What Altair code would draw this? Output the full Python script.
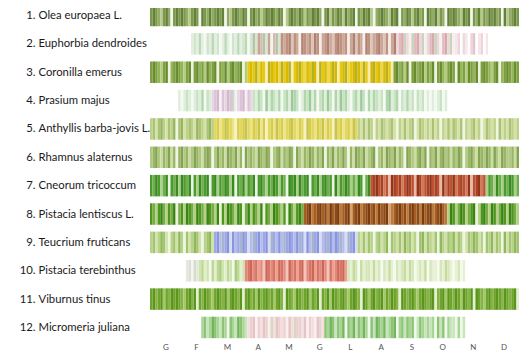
import json
import altair as alt
import pandas as pd

# ---------------- data ----------------
species = ["Olea europaea L.", "Euphorbia dendroides", "Coronilla emerus", "Prasium majus",
           "Anthyllis barba-jovis L.", "Rhamnus alaternus", "Cneorum tricoccum",
           "Pistacia lentiscus L.", "Teucrium fruticans", "Pistacia terebinthus",
           "Viburnus tinus", "Micromeria juliana"]
months = ["G", "F", "M", "A", "M", "G", "L", "A", "S", "O", "N", "D"]
cells_per_month = 12

# colour families (shade 0 = palest ... 4 = darkest)
palettes = {
    "p1":  ["#f2f5ea", "#b5c98c", "#94ad64", "#7b984c", "#64813a"],
    "eg":  ["#f4f9f2", "#e2efe0", "#d0e5cc", "#bcd9b6", "#a8cca2"],
    "em":  ["#f4f4ee", "#d6e4d0", "#d4bcae", "#c8a494", "#b8c4a8"],
    "eb":  ["#f3ece8", "#dcc4b8", "#cca696", "#bf9280", "#b08070"],
    "ep":  ["#f8f0f0", "#ecd6d8", "#e0bcc0", "#c8d4bc", "#d8a8ac"],
    "el":  ["#ffffff", "#f6e6ea", "#f0d4da", "#e8dcd8", "#e4c4cc"],
    "p3g": ["#eef3e0", "#b4cc80", "#94b458", "#7ea040", "#6a8c30"],
    "p3y": ["#f6eeb0", "#eed84a", "#e6c810", "#d8b800", "#b8b020"],
    "p4g": ["#f4faf2", "#deeedb", "#c8e2c4", "#b2d6ac", "#9cc996"],
    "p4p": ["#f6eef2", "#e8d6e2", "#dcc4d6", "#d2b8cc", "#c8d8c4"],
    "p5g": ["#f0f5e2", "#d4e2a8", "#bed08a", "#aac274", "#96b45e"],
    "p5y": ["#f6f2c0", "#ece488", "#e2d860", "#d8cc48", "#c8c450"],
    "p6":  ["#f0f4e4", "#ccdca4", "#b0c880", "#98b666", "#84a452"],
    "p7g": ["#eaf4e2", "#a8d088", "#6eae4c", "#4c9a30", "#3a8a20"],
    "p7r": ["#e8b8a8", "#d07858", "#bc5232", "#a84224", "#923418"],
    "p8g": ["#e8f2d8", "#b4d084", "#78ac48", "#4e961e", "#3a8414"],
    "p8b": ["#d8a070", "#bc7a3a", "#a45e22", "#8e4a16", "#7a3c0e"],
    "p9g": ["#eef5e0", "#d0e2a8", "#b8d28a", "#a4c472", "#90b85c"],
    "p9b": ["#d8dcf4", "#b4bcec", "#9ca8e6", "#8896de", "#a8b4c8"],
    "p10w": ["#f4f4f0", "#e6e8e0", "#dcdfd4", "#d6dccb", "#e0e6d4"],
    "p10g": ["#f4f8ea", "#e2eecc", "#d0e4b0", "#bcd894", "#a8cc7c"],
    "p10r": ["#f2c4ba", "#eca090", "#e4887a", "#d87464", "#cc6656"],
    "p10p": ["#f6f9ee", "#e6f0d4", "#d6e6b8", "#c6dc9e", "#b4d088"],
    "p11": ["#e4eed0", "#a4c868", "#86b444", "#6ea42c", "#5a961c"],
    "p12g": ["#eef7ea", "#c8e4bc", "#a8d494", "#8cc476", "#74b45c"],
    "p12p": ["#faeeee", "#f4dede", "#ecd0d0", "#e4c4c4", "#d6d8c0"],
}

# first cell (1 cell = 1/12 month) of each row
row_start = [0, 16, 0, 11, 0, 0, 0, 0, 0, 14, 0, 20]

# stripe shades per row, as (colour family, shades) segments
row_segments = [
    [("p1", "343213420343" "432134304324" "234340213432" "430342312434" "324301343243" "132434203413"
            "243142340324" "341023432143" "403243134230" "432413204343" "214340324132" "434230412343")],
    [("eg", "1213102131" "2013102131" "230"),
     ("em", "141324130241"),
     ("eb", "3234132043" "2314302342" "1343230241" "3204312342" "13024"),
     ("ep", "1243103241" "3012431024" "130"),
     ("el", "1203102401" "2010")],
    [("p3g", "3432134023" "4321340342" "3142340324" "13423401"),
     ("p3y", "2324132043" "2314234023" "4213243042" "3124302341" "2343142034" "2313420"),
     ("p3g", "3423140342" "3413240342" "1343042314" "3240343213" "402343243")],
    [("p4g", "1012101213021"),
     ("p4p", "1230213240123021"),
     ("p4g", "2132041321" "3023143201" "3241302314" "2031423102" "3142031321" "2034123021" "3120212010" "101201")],
    [("p5g", "2313421324" "0341232143" "21342"),
     ("p5y", "2312432103" "2342132413" "0231423123" "4213204321" "3241320423" "123142"),
     ("p5g", "2131320213" "2123102131" "2301321213" "1202131321" "3021231201" "3212031213" "212")],
    [("p6", "2342132413" "0342312432" "1343024231" "4324130423" "2143243023" "4132430421" "3243132403"
            "2413242031" "4324123402" "3143241320" "4321342403" "2413423132" "4302342143" "2431421432" "2314")],
    [("p7g", "3243124032" "4143240314" "2340341324" "3140324132" "4034213243" "1320434142" "3403241342"
             "3041324312" "143024"),
     ("p7r", "2342312043" "2312432043" "1234232041" "3241232140" "23412"),
     ("p7g", "1321421324312")],
    [("p8g", "3213421324" "0231432143" "2143214031" "4321430241" "3214032143" "2130421342"),
     ("p8b", "2341234231" "4234123402" "3412342314" "2340123423" "1342314234" "123421"),
     ("p8g", "1431243123" "4013421431" "24314321")],
    [("p9g", "2312431023" "1420312431" "02341"),
     ("p9b", "2314230312" "4320142312" "3042131423" "2134203142" "3012431324" "104230"),
     ("p9g", "2131320231" "2403213142" "3120341321" "3042132413" "2013243120" "3241320413" "243")],
    [("p10w", "12031"),
     ("p10g", "2312031342" "13204312"),
     ("p10r", "2342312043" "2314320423" "1340234132" "4203124341"),
     ("p10p", "2132031221" "3120213102" "1231320121" "3021102132" "101201")],
    [("p11", "3423413243" "4321342403" "2432134324" "1343240342" "3142342313" "4204321432" "3413240324"
             "1432342134" "3204313423" "4132432043" "2342134323" "4023414324" "3143240432" "1342343243" "2340")],
    [("p12g", "2312432132" "03214321"),
     ("p12p", "1230213204" "1321203142" "2130210321"),
     ("p12g", "3243132403" "2413242031" "4324123402" "3132301321" "2120313021" "10201")],
]

# ---------------- table ----------------
records = []
for r, (start, segs) in enumerate(zip(row_start, row_segments), start=1):
    c = start
    for pal, shades in segs:
        for ch in shades:
            records.append({
                "row": r,
                "x0": c / cells_per_month,
                "x1": (c + 1) / cells_per_month,
                "y0": r - 0.379,
                "y1": r + 0.379,
                "col": palettes[pal][int(ch)],
            })
            c += 1
df = pd.DataFrame(records)

name_expr = json.dumps(species) + "[datum.value - 1]"
num_expr = "datum.value + '.'"
month_expr = json.dumps(months) + "[floor(datum.value)]"

y_scale = alt.Scale(domain=[0.7356, 12.478], reverse=True, nice=False, zero=False)
x_enc = alt.X("x0:Q", scale=alt.Scale(domain=[0, 12], nice=False, zero=False),
              axis=alt.Axis(values=[i + 0.5 for i in range(12)], labelExpr=month_expr,
                            title=None, grid=False, domain=False, ticks=False,
                            labelFontSize=8, labelColor="#555555", labelPadding=2,
                            labelFont="Lato"))
common_label = dict(values=list(range(1, 13)), title=None, grid=False, domain=False, ticks=False,
                    labelBaseline="middle", labelLimit=200, labelFontSize=11.3,
                    labelColor="#1a1a1a", labelFont="Lato", orient="left")

base = alt.Chart(df)
bars = base.mark_rect(strokeWidth=0).encode(
    x=x_enc, x2="x1:Q",
    y=alt.Y("y0:Q", scale=y_scale,
            axis=alt.Axis(labelExpr=name_expr, labelAlign="left", labelPadding=112, **common_label)),
    y2="y1:Q",
    color=alt.Color("col:N", scale=None),
)
numbers = base.mark_rect(strokeWidth=0, opacity=0).encode(
    x=x_enc, x2="x1:Q",
    y=alt.Y("y0:Q", scale=y_scale,
            axis=alt.Axis(labelExpr=num_expr, labelAlign="right", labelPadding=115, **common_label)),
    y2="y1:Q",
)

chart = alt.layer(bars, numbers).resolve_axis(y="independent").properties(
    width=369, height=333,
    autosize="none",
    padding={"left": 142, "top": 0, "right": 0, "bottom": 9},
    background="white",
).configure_view(stroke=None)

chart.save("out.html", embed_options={"renderer": "svg", "actions": False})
